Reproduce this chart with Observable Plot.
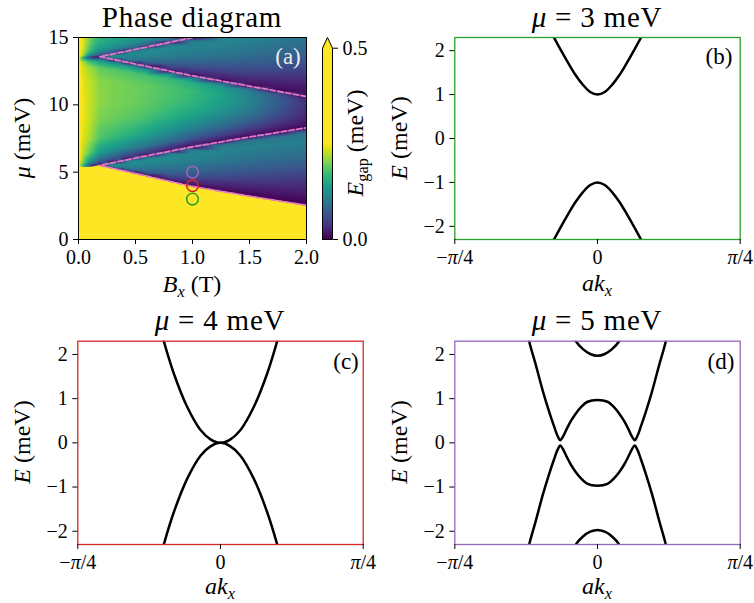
<!DOCTYPE html>
<html><head><meta charset="utf-8">
<script src="https://cdn.jsdelivr.net/npm/d3@7"></script>
<script src="https://cdn.jsdelivr.net/npm/@observablehq/plot@0.6"></script>
<style>
body{margin:0;background:#fff;}
#fig{position:relative;width:754px;height:603px;font-family:"Liberation Serif",serif;color:#000;overflow:hidden;}
#fig svg{position:absolute;overflow:visible;}
.lbl{position:absolute;white-space:nowrap;line-height:0.9;}
.lbl i{font-style:italic;}
.lbl sub{font-size:0.68em;vertical-align:-0.28em;line-height:0;}
</style></head><body><div id="fig"></div>
<script>
// ================= data =================
// Phase diagram, read column by column (B in T). Each region is sampled at fixed
// fractions between its lower and upper boundary (mu in meV); values are E_gap in meV
// (the colour map saturates to yellow at ~0.25 meV).
const colB      = [0, 0.04, 0.08, 0.12, 0.187, 0.3, 0.45, 0.6, 0.8, 0.98, 1.25, 1.5, 1.75, 2.0];
// boundaries per column (gap-closing lines / notches)
const colL1     = [null, null, null, null, 5.5, 5.28, 5.0, 4.71, 4.32, 3.97, 3.59, 3.22, 2.88, 2.54];
const colU1     = [5.4, 5.4, 5.42, 5.44, 5.5, 5.70, 5.96, 6.22, 6.55, 6.85, 7.25, 7.61, 7.95, 8.3];
const colL2     = [13.5, 13.5, 13.52, 13.55, 13.58, 13.38, 13.12, 12.86, 12.51, 12.19, 11.77, 11.39, 11.0, 10.62];
const colU2     = [13.5, 13.5, 13.52, 13.55, 13.58, 13.77, 14.03, 14.29, 14.645, 14.96, 15, 15, 15, 15];
const muTop = 15;

// inside lower lobe (L1 -> U1)
const fLower = [0, 0.1, 0.25, 0.45, 0.65, 0.82, 0.93, 1];
const gapLower = [
  null, null, null, null, null,
  [0, .075, .1, .113, .118, .113, .088, 0],
  [0, .063, .095, .113, .12, .118, .095, 0],
  [0, .05, .083, .105, .118, .118, .095, 0],
  [0, .038, .07, .095, .113, .118, .1, 0],
  [0, .03, .06, .088, .108, .115, .1, 0],
  [0, .02, .05, .08, .103, .113, .1, 0],
  [0, .015, .04, .07, .095, .11, .1, 0],
  [0, .013, .035, .065, .093, .108, .098, 0],
  [0, .01, .03, .06, .09, .108, .095, 0]
];
// middle band (U1 -> L2)
const fMiddle = [0, 0.04, 0.12, 0.25, 0.42, 0.6, 0.78, 0.9, 0.96, 1];
const gapMiddle = [
  [.26, .26, .26, .26, .26, .26, .26, .26, .26, .26],
  [.15, .2, .225, .238, .243, .243, .24, .235, .22, .15],
  [.075, .15, .2, .225, .233, .233, .23, .22, .188, .075],
  [.025, .113, .175, .208, .22, .225, .223, .21, .163, .025],
  [0, .075, .138, .18, .2, .208, .205, .188, .138, 0],
  [0, .063, .125, .17, .193, .2, .2, .185, .138, 0],
  [0, .05, .113, .158, .185, .195, .195, .18, .138, 0],
  [0, .043, .1, .145, .175, .188, .19, .175, .13, 0],
  [0, .033, .083, .125, .158, .175, .18, .168, .125, 0],
  [0, .025, .068, .108, .143, .163, .17, .158, .118, 0],
  [0, .018, .05, .085, .118, .138, .145, .135, .1, 0],
  [0, .013, .035, .063, .09, .108, .113, .105, .075, 0],
  [0, .008, .023, .04, .058, .07, .075, .068, .05, 0],
  [0, .005, .013, .02, .028, .033, .035, .03, .02, 0]
];
// inside upper lobe (L2 -> U2, or the top edge once U2 has left the chart)
const fUpper = [0, 0.08, 0.25, 0.45, 0.65, 0.82, 0.93, 1];
const gapUpper = [
  null, null, null, null, null,
  [0, .075, .105, .118, .12, .115, .088, 0],
  [0, .063, .095, .113, .12, .118, .095, 0],
  [0, .05, .085, .108, .118, .118, .095, 0],
  [0, .038, .073, .098, .113, .115, .095, 0],
  [0, .03, .063, .09, .108, .113, .095, 0],
  [0, .023, .053, .08, .1, .11, .113, .11],
  [0, .018, .045, .07, .09, .103, .108, .108],
  [0, .013, .035, .06, .08, .093, .1, .103],
  [0, .01, .028, .05, .07, .085, .093, .095]
];
// top band (U2 -> top edge)
const fTop = [0, 0.1, 0.3, 0.6, 1];
const gapTop = [
  [.26, .26, .26, .26, .26],
  [.15, .213, .23, .238, .24],
  [.075, .15, .188, .205, .213],
  [.025, .113, .155, .175, .185],
  [0, .075, .125, .15, .163],
  [0, .068, .115, .138, .15],
  [0, .055, .1, .125, .138],
  [0, .045, .088, .113, .125],
  [0, .035, .068, .088, .1],
  [0, .013, .025, .038, .05],
  null, null, null, null
];
// edge of the trivial (saturated, yellow) region
const trivialB  = [0, 0.12, 0.187, 0.5, 0.98, 1.5, 2.0];
const trivialMu = [5.33, 5.36, 5.5, 4.9, 3.97, 3.22, 2.54];
// gap-closing lines (pink dashed)
const lowerVB  = [2.0, 1.5, 0.98, 0.5, 0.187, 0.6, 0.98, 1.42, 2.0];
const lowerVMu = [2.54, 3.22, 3.97, 4.9, 5.5, 6.22, 6.85, 7.5, 8.3];
const upperVB  = [2.0, 1.5, 0.98, 0.5, 0.187, 0.6, 1.0];
const upperVMu = [10.62, 11.39, 12.19, 13.03, 13.58, 14.29, 15.0];
// markers
const markerB = [1, 1, 1];
const markerMu = [3, 4, 5];
const markerColor = ["#2ca02c", "#d62728", "#9467bd"];
// axes ticks
const ticksBx = [0, 0.5, 1, 1.5, 2];
const ticksMu = [0, 5, 10, 15];
const cbarTicks = [0, 0.5];
const cbarMax = 0.5;
const colorSaturation = 0.25;
const ticksE = [-2, -1, 0, 1, 2];
const ticksK = [-Math.PI/4, 0, Math.PI/4];
const tickKLabels = ["−π/4", "0", "π/4"];

// band structures
const kB = [-0.25,-0.2,-0.16,-0.12,-0.08,-0.04,0,0.04,0.08,0.12,0.16,0.2,0.25];
const eBUpper = [2.38,2.0,1.71,1.44,1.22,1.06,1.0,1.06,1.22,1.44,1.71,2.0,2.38];
const eBLower = [-2.38,-2.0,-1.71,-1.44,-1.22,-1.06,-1.0,-1.06,-1.22,-1.44,-1.71,-2.0,-2.38];

const kC = [-0.34,-0.312,-0.257,-0.183,-0.11,-0.055,0,0.055,0.11,0.183,0.257,0.312,0.34];
const eCUpper = [2.75,2.3,1.57,0.81,0.29,0.08,0,0.08,0.29,0.81,1.57,2.3,2.75];
const eCLower = [-2.75,-2.3,-1.57,-0.81,-0.29,-0.08,0,-0.08,-0.29,-0.81,-1.57,-2.3,-2.75];

const kDW = [-0.40,-0.376,-0.34,-0.3,-0.265,-0.238,-0.22,-0.205,-0.19,-0.17,-0.147,-0.12,-0.092,-0.055,0,0.055,0.092,0.12,0.147,0.17,0.19,0.205,0.22,0.238,0.265,0.3,0.34,0.376,0.40];
const eDWUpper = [2.84,2.3,1.77,1.16,0.69,0.36,0.16,0.06,0.14,0.31,0.49,0.66,0.8,0.93,0.97,0.93,0.8,0.66,0.49,0.31,0.14,0.06,0.16,0.36,0.69,1.16,1.77,2.3,2.84];
const eDWLower = [-2.84,-2.3,-1.77,-1.16,-0.69,-0.36,-0.16,-0.06,-0.14,-0.31,-0.49,-0.66,-0.8,-0.93,-0.97,-0.93,-0.8,-0.66,-0.49,-0.31,-0.14,-0.06,-0.16,-0.36,-0.69,-1.16,-1.77,-2.3,-2.84];
const kDTop = [-0.13,-0.119,-0.08,-0.04,0,0.04,0.08,0.119,0.13];
const eDTop = [2.4,2.3,2.12,2.01,1.97,2.01,2.12,2.3,2.4];
const eDBottom = [-2.4,-2.3,-2.12,-2.01,-1.97,-2.01,-2.12,-2.3,-2.4];

// ================= build =================
const fig = document.getElementById("fig");
const FONT = '"Liberation Serif", serif';
const baseStyle = {fontFamily: FONT, fontSize: "20px", background: "transparent", overflow: "visible", color: "black"};
const colorScale = {type: "linear", scheme: "viridis", domain: [0, colorSaturation], clamp: true};
const yellow = d3.interpolateViridis(1);
const TICK = 5, PADX = 5, PADY = 5;

// sample table for the raster
const gapSamples = [];
function addRegion(fracs, table, lo, hi) {
  colB.forEach((b, j) => {
    const vals = table[j];
    if (!vals || lo[j] == null || hi[j] == null) return;
    fracs.forEach((f, k) => gapSamples.push({B: b, mu: lo[j] + f * (hi[j] - lo[j]), E: vals[k]}));
  });
}
addRegion(fLower, gapLower, colL1, colU1);
addRegion(fMiddle, gapMiddle, colU1, colL2);
addRegion(fUpper, gapUpper, colL2, colU2.map(u => Math.min(u, muTop)));
addRegion(fTop, gapTop, colU2, colB.map(() => muTop));

const trivialEdge = trivialB.map((b, i) => ({B: b, mu: trivialMu[i]}));
const lowerV = lowerVB.map((b, i) => ({B: b, mu: lowerVMu[i]}));
const upperV = upperVB.map((b, i) => ({B: b, mu: upperVMu[i]}));
const markers = markerB.map((b, i) => ({B: b, mu: markerMu[i], color: markerColor[i]}));

function place(svg, left, top) { svg.style.left = left + "px"; svg.style.top = top + "px"; fig.appendChild(svg); return svg; }
function italicPi(svg) {
  d3.select(svg).selectAll("text").each(function() {
    const t = this.textContent;
    if (t.includes("π")) this.innerHTML = t.replace("π", '<tspan font-style="italic">π</tspan>');
  });
}
function label(html, x, y, opts = {}) {
  const d = document.createElement("div");
  d.className = "lbl";
  d.innerHTML = html;
  d.style.fontSize = (opts.size || 24) + "px";
  d.style.left = x + "px"; d.style.top = y + "px";
  d.style.transform = "translate(-50%,-50%)" + (opts.rotate ? " rotate(-90deg)" : "");
  if (opts.color) d.style.color = opts.color;
  if (opts.spacing) d.style.letterSpacing = opts.spacing + "px";
  fig.appendChild(d);
}

// Panel (a)
const pink = "#e377c2";
const pa = Plot.plot({
  width: 315, height: 300, marginLeft: 78, marginRight: 9, marginTop: 37, marginBottom: 61,
  x: {domain: [0, 2]}, y: {domain: [0, 15]},
  color: colorScale, style: baseStyle,
  marks: [
    Plot.raster(gapSamples, {x: "B", y: "mu", fill: "E", interpolate: "barycentric", x1: 0, x2: 2, y1: 0, y2: 15}),
    Plot.areaY(trivialEdge, {x: "B", y1: 0, y2: "mu", fill: yellow, clip: true}),
    Plot.line(lowerV, {x: "B", y: "mu", stroke: pink, strokeWidth: 1.8, strokeDasharray: "5.5,2.4", clip: true}),
    Plot.line(upperV, {x: "B", y: "mu", stroke: pink, strokeWidth: 1.8, strokeDasharray: "5.5,2.4", clip: true}),
    ...markers.map(m => Plot.dot([m], {x: "B", y: "mu", r: 5.8, stroke: m.color, strokeWidth: 1.6})),
    Plot.frame({stroke: "black", strokeWidth: 1}),
    Plot.axisX({ticks: ticksBx, tickFormat: d3.format(".1f"), tickSize: TICK, tickPadding: PADX, label: null}),
    Plot.axisY({ticks: ticksMu, tickFormat: d3.format("d"), tickSize: TICK, tickPadding: PADY, label: null})
  ]
});
place(pa, 0, 0);

// Colorbar (gradient legend)
const cbarStep = 0.0025;
const cbarLevels = d3.range(0, cbarMax, cbarStep);
const cbarExt = 0.028;
const cbarTri = [{x: 0, y1: cbarMax, y2: cbarMax}, {x: 0.5, y1: cbarMax, y2: cbarMax + cbarExt}, {x: 1, y1: cbarMax, y2: cbarMax}];
const cbarOutline = [{x: 0, y: 0}, {x: 0, y: cbarMax}, {x: 0.5, y: cbarMax + cbarExt}, {x: 1, y: cbarMax}, {x: 1, y: 0}, {x: 0, y: 0}];
const pcb = Plot.plot({
  width: 80, height: 300, marginLeft: 20, marginRight: 50, marginTop: 37, marginBottom: 61,
  x: {domain: [0, 1], axis: null}, y: {domain: [0, cbarMax + cbarExt], axis: null},
  color: colorScale, style: baseStyle,
  marks: [
    Plot.rect(cbarLevels, {x1: 0, x2: 1, y1: d => d, y2: d => d + cbarStep * 1.6, fill: d => d + cbarStep / 2, shapeRendering: "crispEdges"}),
    Plot.areaY(cbarTri, {x: "x", y1: "y1", y2: "y2", fill: yellow}),
    Plot.line(cbarOutline, {x: "x", y: "y", stroke: "black", strokeWidth: 1}),
    Plot.axisY({anchor: "right", ticks: cbarTicks, tickFormat: d3.format(".1f"), tickSize: TICK, tickPadding: PADY, label: null})
  ]
});
place(pcb, 301.5, 0);

// Band panels
function bandPanel(series, frameColor, h, mt, mb) {
  const svg = Plot.plot({
    width: 377, height: h, marginLeft: 77.3, marginRight: 14.3, marginTop: mt, marginBottom: mb,
    x: {domain: [-Math.PI/4, Math.PI/4]}, y: {domain: [-2.3, 2.3]},
    style: baseStyle,
    marks: [
      ...series.map(s => Plot.line(s, {x: "k", y: "E", stroke: "black", strokeWidth: 2.5, curve: "catmull-rom", clip: true})),
      Plot.frame({stroke: frameColor, strokeWidth: 1.3}),
      Plot.axisX({ticks: ticksK, tickFormat: (d, i) => tickKLabels[i], tickSize: TICK, tickPadding: PADX, label: null}),
      Plot.axisY({ticks: ticksE, tickFormat: d3.format("d"), tickSize: TICK, tickPadding: PADY, label: null})
    ]
  });
  italicPi(svg);
  return svg;
}
const toRows = (K, E) => K.map((k, i) => ({k, E: E[i]}));
place(bandPanel([toRows(kB, eBUpper), toRows(kB, eBLower)], markerColor[0], 300, 37, 61), 377, 0);
place(bandPanel([toRows(kC, eCUpper), toRows(kC, eCLower)], markerColor[1], 303, 40.7, 59), 0, 300);
place(bandPanel([toRows(kDW, eDWUpper), toRows(kDW, eDWLower), toRows(kDTop, eDTop), toRows(kDTop, eDBottom)], markerColor[2], 303, 40.7, 59), 377, 300);

// Text labels
label("Phase diagram", 192, 17, {size: 29, spacing: 0.8});
label("<i>μ</i> = 3 meV", 597, 17, {size: 29, spacing: 0.8});
label("<i>μ</i> = 4 meV", 220, 320, {size: 29, spacing: 0.8});
label("<i>μ</i> = 5 meV", 597, 320, {size: 29, spacing: 0.8});
label("<i>B</i><sub><i>x</i></sub> (T)", 192, 285);
label("<i>ak</i><sub><i>x</i></sub>", 597, 284);
label("<i>ak</i><sub><i>x</i></sub>", 220, 587);
label("<i>ak</i><sub><i>x</i></sub>", 597, 587);
label("<i>μ</i> (meV)", 23, 138, {rotate: true});
label("<i>E</i> (meV)", 400, 138, {rotate: true});
label("<i>E</i> (meV)", 23, 442, {rotate: true});
label("<i>E</i> (meV)", 400, 442, {rotate: true});
label("<i>E</i><sub>gap</sub> (meV)", 356, 143, {rotate: true});
label("(a)", 288, 57, {size: 23, color: "#ececec"});
label("(b)", 719, 57, {size: 23});
label("(c)", 346, 362, {size: 23});
label("(d)", 721, 362, {size: 23});
</script></body></html>
